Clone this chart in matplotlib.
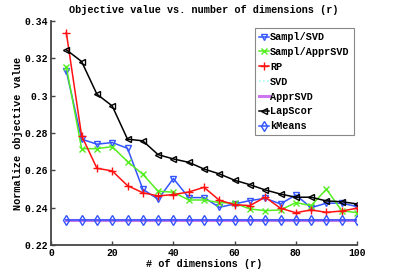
import matplotlib
matplotlib.use("Agg")
import matplotlib.pyplot as plt

dims = [5, 10, 15, 20, 25, 30, 35, 40, 45, 50, 55, 60, 65, 70, 75, 80, 85, 90, 95, 100]

sampl_svd = [0.3133, 0.2767, 0.2740, 0.2749, 0.2718, 0.2499, 0.2445, 0.2556, 0.2454, 0.2454,
             0.2402, 0.2420, 0.2438, 0.2450, 0.2420, 0.2468, 0.2400, 0.2424, 0.2424, 0.2406]
sampl_apprsvd = [0.3156, 0.2716, 0.2716, 0.2727, 0.2647, 0.2579, 0.2488, 0.2483, 0.2441, 0.2441,
                 0.2427, 0.2424, 0.2393, 0.2384, 0.2388, 0.2427, 0.2411, 0.2499, 0.2384, 0.2373]
rp = [0.3338, 0.2786, 0.2611, 0.2597, 0.2518, 0.2480, 0.2463, 0.2470, 0.2484, 0.2509,
      0.2440, 0.2416, 0.2411, 0.2456, 0.2397, 0.2373, 0.2388, 0.2375, 0.2382, 0.2397]
svd = [0.2335] * 20
apprsvd = [0.2336] * 20
lapscor = [0.3246, 0.3183, 0.3008, 0.2945, 0.2767, 0.2758, 0.2684, 0.2661, 0.2643, 0.2607,
           0.2581, 0.2547, 0.2523, 0.2495, 0.2473, 0.2456, 0.2456, 0.2436, 0.2432, 0.2420]
kmeans = [0.2333] * 20

series_labels = ["Sampl/SVD", "Sampl/ApprSVD", "RP", "SVD", "ApprSVD", "LapScor", "kMeans"]
xticks = [0, 20, 40, 60, 80, 100]
yticks = [0.22, 0.24, 0.26, 0.28, 0.30, 0.32, 0.34]
ytick_labels = ["0.22", "0.24", "0.26", "0.28", "0.3", "0.32", "0.34"]

font = "Liberation Mono"

fig = plt.figure(figsize=(3.95, 2.75), dpi=100)
ax = fig.add_axes([51/395, 1-245/275, (357-51)/395, (245-21)/275])

ms = 5
ax.plot(dims, sampl_svd, color="#3355ff", marker="v", mfc="none", ms=ms, lw=1.1, label=series_labels[0])
ax.plot(dims, sampl_apprsvd, color="#55ee22", marker="x", ms=4, lw=1.1, label=series_labels[1])
ax.plot(dims, rp, color="#ff1111", marker="+", ms=6, lw=1.1, label=series_labels[2])
ax.plot(dims, svd, color="#99ffee", ls=":", lw=1.1, label=series_labels[3])
ax.plot(dims, apprsvd, color="#cc77ee", lw=2.2, label=series_labels[4])
ax.plot(dims, lapscor, color="black", marker="<", mfc="none", ms=ms, lw=1.1, label=series_labels[5])
ax.plot(dims, kmeans, color="#3355ff", marker="d", mfc="none", ms=ms, lw=1.1, label=series_labels[6])

ax.set_xlim(0, 100)
ax.set_ylim(0.22, 0.34)
ax.set_xticks(xticks)
ax.set_xticklabels([str(t) for t in xticks], fontfamily=font, fontweight="bold", fontsize=7)
ax.set_yticks(yticks)
ax.set_yticklabels(ytick_labels, fontfamily=font, fontweight="bold", fontsize=7)
ax.tick_params(direction="in", length=3, width=1, colors="#444444", labelcolor="black", pad=2)

for s in ["top", "right"]:
    ax.spines[s].set_visible(False)
for s in ["left", "bottom"]:
    ax.spines[s].set_color("#444444")
    ax.spines[s].set_linewidth(1.3)

ax.set_title("Objective value vs. number of dimensions (r)", fontfamily=font, fontweight="bold", fontsize=7.3, pad=6)
ax.set_xlabel("# of dimensions (r)", fontfamily=font, fontweight="bold", fontsize=7.3, labelpad=1)
ax.set_ylabel("Normalize objective value", fontfamily=font, fontweight="bold", fontsize=7.3, labelpad=1)

leg = ax.legend(loc="upper left", bbox_to_anchor=(255/395, 1-28/275), bbox_transform=fig.transFigure,
                prop={"family": font, "weight": "bold", "size": 7.3}, handlelength=1.0, handletextpad=0.1,
                labelspacing=0.48, borderpad=0.4, fancybox=False, framealpha=1, edgecolor="#888888",
                borderaxespad=0)
leg.get_frame().set_linewidth(0.8)

fig.savefig("out.png", dpi=100)
